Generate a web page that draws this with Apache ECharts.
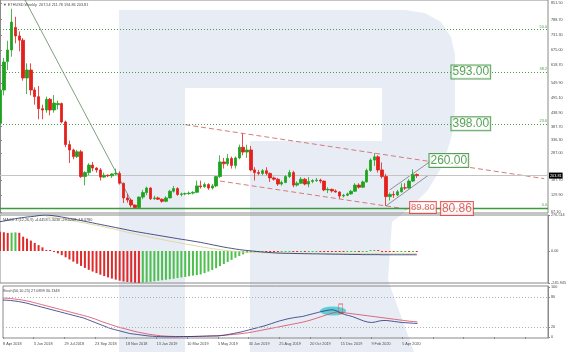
<!DOCTYPE html>
<html>
<head>
<meta charset="utf-8">
<script src="https://cdn.jsdelivr.net/npm/echarts@6/dist/echarts.min.js"></script>
<style>
  html, body { margin: 0; padding: 0; background: #fff; }
  #chart { width: 569px; height: 352px; }
</style>
</head>
<body>
<div id="chart"></div>
<script>
// ETHUSD weekly, week of 8 Apr 2018 .. week of 3 May 2020
const dateLabels = ['8 Apr 2018', '3 Jun 2018', '29 Jul 2018', '23 Sep 2018', '18 Nov 2018', '13 Jan 2019',
  '10 Mar 2019', '5 May 2019', '30 Jun 2019', '25 Aug 2019', '20 Oct 2019', '15 Dec 2019', '9 Feb 2020', '5 Apr 2020'];

const opens = [400, 525, 632, 675, 760, 728, 712, 570, 600, 525, 500, 455, 450, 490, 450, 470, 474, 405, 320, 300,
  275, 293, 200, 215, 243, 232, 225, 198, 205, 203, 210, 212, 175, 120, 112, 93, 84, 123, 140, 157,
  117, 120, 115, 107, 120, 145, 155, 133, 135, 136, 138, 141, 165, 162, 170, 157, 165, 200, 255, 248,
  268, 242, 270, 310, 292, 300, 225, 215, 212, 222, 212, 195, 190, 172, 178, 200, 215, 168, 175, 190,
  172, 182, 185, 187, 183, 150, 152, 146, 142, 127, 130, 135, 145, 168, 160, 180, 223, 262, 274, 225,
  200, 125, 133, 131, 143, 158, 157, 183, 207.54];
const highs = [545, 645, 710, 830, 800, 745, 720, 625, 625, 535, 540, 470, 500, 495, 506, 485, 478, 410, 335, 305,
  300, 300, 220, 250, 255, 235, 232, 215, 208, 212, 230, 220, 177, 135, 118, 95, 125, 150, 162, 160,
  128, 125, 118, 126, 150, 165, 160, 140, 140, 144, 145, 185, 185, 178, 175, 172, 202, 280, 270, 285,
  275, 275, 320, 362, 320, 315, 235, 225, 228, 235, 215, 200, 195, 185, 205, 225, 222, 182, 198, 195,
  198, 190, 195, 192, 185, 160, 155, 152, 145, 135, 140, 150, 175, 175, 185, 230, 268, 288, 280, 253,
  210, 140, 145, 150, 175, 175, 190, 227, 211.78];
const lows = [385, 505, 600, 650, 700, 670, 560, 510, 505, 470, 415, 415, 440, 430, 440, 452, 400, 310, 251, 265,
  270, 195, 167, 205, 220, 215, 185, 195, 198, 195, 205, 170, 101, 102, 85, 80.86, 83, 115, 130, 112,
  113, 112, 102, 104, 118, 140, 128, 126, 130, 132, 133, 138, 155, 158, 150, 152, 160, 195, 230, 240,
  230, 230, 265, 280, 270, 220, 185, 205, 205, 205, 180, 185, 165, 166, 175, 195, 160, 163, 172, 167,
  160, 175, 180, 175, 145, 138, 140, 140, 117, 122, 126, 132, 142, 155, 157, 178, 218, 240, 215, 193,
  89.80, 110, 120, 126, 140, 150, 155, 180, 194.86];
const closes = [525, 630, 675, 780, 728, 712, 570, 600, 525, 500, 455, 450, 490, 450, 476, 474, 405, 320, 300, 275,
  293, 200, 215, 243, 232, 225, 198, 205, 203, 210, 212, 175, 120, 112, 93, 84, 123, 140, 157, 117,
  120, 115, 107, 120, 145, 155, 133, 135, 136, 138, 141, 165, 162, 170, 157, 165, 200, 255, 248, 268,
  242, 270, 310, 292, 300, 225, 215, 212, 222, 212, 195, 190, 172, 178, 200, 215, 168, 175, 190, 172,
  182, 185, 187, 183, 150, 152, 146, 142, 127, 130, 135, 145, 168, 160, 180, 223, 262, 274, 225, 200,
  125, 133, 131, 143, 158, 157, 183, 207, 203.81];

const macdHist = [148, 144, 139, 141, 143, 140, 110, 95, 80, 62, 45, 28, 8, 3, -4,
  -18, -32, -48, -65, -82, -98, -115, -130, -145, -158, -170, -182, -193, -203, -212, -220, -228, -234, -238, -241, -244, -245.945,
  -243, -240, -237, -233, -229, -225, -221, -217, -213, -208, -203, -199, -194, -189, -185, -180,
  -170, -158, -146, -132, -116, -100, -84, -68, -52, -38, -26, -16, -9, -5,
  -4, -2, -3, -5, -6, -7, -6, -4, -2, -4, -5, -4, -5, -4, -3, -2, -2, -4, -5, -6, -7, -8, -8, -7,
  -6, -5, -5, -4, -2, 0, 1, 0, -2, -5, -7, -8, -7, -6, -5, -5, -4, -4.4458];
const macdMain = [225, 230, 236, 242, 248, 253, 257, 261, 264, 267, 272, 275, 276.514, 274, 270,
  266, 261, 256, 250, 245, 240, 234, 228, 222, 216, 210, 204, 198, 192, 186, 180, 174, 168, 162, 156,
  150, 145, 140, 135, 130, 125, 120, 115, 110, 105, 100, 95, 90, 86, 81, 76, 71, 66,
  60, 54, 48, 42, 36, 30, 25, 20, 15, 11, 7, 4, 1, -2,
  -5, -8, -10, -12, -14, -16, -17, -18, -18, -19, -20, -20, -21, -21, -22, -22, -23, -23, -24, -24,
  -25, -25, -26, -26, -27, -27, -27, -28, -28, -28, -28, -28, -29, -29, -29, -29, -29, -29, -29, -29, -29, -29.0208];
const macdSignal = [null, null, null, null, null, null, null, null, null, null, null, null,
  262, 259, 256, 252, 247, 242, 237, 231, 226, 220, 215, 209, 203, 198, 192, 185, 178, 172, 165, 158,
  151, 144, 138, 131, 124, 118, 112, 106, 100, 94, 88, 82, 76, 71, 65, 60, 54, 49, 44, 38,
  33, 28, 23, 18, 14, 10, 6, 2, -1, -4, -6, -8, -10, -11, -12, -13,
  -14, -14, -15, -15, -16, -16, -16, -17, -17, -17, -17, -18, -18, -18, -18, -18, -19, -19, -19, -19,
  -19, -19, -19, -19, -19, -19, -19, -19, -19, -19, -18, -18, -18, -18, -18, -18, -18, -18, -18, -18, -18.378];

const stochMain = [74, 73.5, 73, 72, 71, 69.5, 68, 66, 64, 62, 60, 58, 56, 54, 52,
  50, 48, 46, 44, 42, 40, 38, 35, 32, 29, 26, 23, 20, 17, 15,
  13, 11, 9, 7, 6, 5, 4, 3, 2, 1.5, 1, 0.8, 0.5, 0.5, 0.5,
  0.5, 0.6, 0.8, 1, 1, 1.2, 1.4, 1.6, 1.8, 2, 2, 2, 3, 4, 5.5,
  7, 8.5, 10, 12, 14, 16, 18, 20, 22, 24.5, 27, 29.5, 32, 34, 36,
  37.5, 39, 40, 41, 43, 45, 47, 49, 51, 52.5, 54, 54.5, 52, 48, 45,
  43, 41, 38, 35, 32, 30, 29, 30, 32, 33, 33, 32, 31, 30, 29,
  28.5, 28, 27.5, 27.0899];
const stochSignal = [78, 77.5, 77, 76, 75, 74, 72.5, 71, 69, 67, 65, 63, 61, 59, 57,
  55, 53, 51, 49, 47, 45, 43, 41, 38.5, 36, 33, 30, 27.5, 25, 22.5,
  20, 18, 16, 14, 12, 10, 8.5, 7, 5.5, 4.5, 3.5, 2.5, 2, 1.5, 1.2,
  1, 1, 1, 1, 1, 1, 1.2, 1.4, 1.6, 2, 2.4, 2.8, 3.2, 3.8, 4.4,
  5, 5.8, 6.6, 7.6, 8.6, 10, 11.5, 13, 14.5, 16, 17.5, 19, 20.5, 22, 23.5,
  25, 26.5, 28, 29.5, 31.5, 33.5, 36, 38.5, 41, 43.5, 46, 48.5, 50, 49.5, 48.5,
  47.5, 46.5, 45.5, 44.5, 43.5, 42.5, 41.5, 40.5, 39.5, 38.5, 37.5, 36.5, 35.5, 34.5, 33.5,
  32.5, 31.5, 30.8, 30.1348];

const priceTicks = [67.10, 129.90, 187.70, 287.00, 336.30, 387.70, 438.90, 495.10, 549.90, 618.70, 675.00, 731.30, 788.70, 851.50];
const macdTicks = [-245.945, 0, 276.514];
const stochTicks = [0, 20, 80, 100];

const fiboLevels = [80.86, 398, 593, 752];
const fiboNames = ['0.0', '23.6', '38.2', '50.0'];
const lastPrice = 203.81;

// boxed price targets: [week slot, price, text]
const greenTargets = [[122, 593, '593.00'], [122, 398, '398.00'], [116.3, 260, '260.00']];
const redTargets = [[118.4, 80.3, '80.86'], [109.6, 84, '89.80']];

// trend / channel lines: pairs of [week slot, price]
const fiboTrend = [[-14, 1424], [35, 80.86]];
const channelTop = [[48, 394.6], [141, 192.3]];
const channelBottom = [[57, 183.4], [106, 76.7]];
const riseLow = [[100, 89.8], [111, 205]];
const riseHigh = [[101, 150], [112, 262]];

const N_SLOTS = 143;
const cats = Array.from({ length: N_SLOTS }, (_, i) => String(i));
const GREEN = '#1fa31f', RED = '#e3201c', FIBO = '#4a9a4a', AXIS = '#8a8a8a', TXT = '#4a4a4a';
const FONT = 'Liberation Sans';

const chart = echarts.init(document.getElementById('chart'));

const candles = opens.map((o, i) => [o, closes[i], lows[i], highs[i]]);

const fiboMarks = fiboLevels.map((v, i) => ({
  yAxis: v,
  lineStyle: i === 0 ? { type: 'solid', width: 1.4, color: '#3c9a3c' } : { type: [1, 2], width: 1, color: FIBO },
  label: { show: true, formatter: fiboNames[i], position: 'insideEndTop', distance: 1, fontSize: 3.8, color: FIBO, fontFamily: FONT }
}));

const logo = [[119, 10], [405, 10], [425, 13], [441, 22], [451, 37], [455, 55], [455, 110], [452, 135], [443, 165],
  [428, 190], [410, 208], [392, 222], [388, 280], [414, 352], [250, 352], [250, 141], [382, 141], [382, 88],
  [185, 88], [185, 352], [119, 352]];

const hiddenCat = {
  type: 'category', data: cats, boundaryGap: false,
  axisLine: { show: false }, axisTick: { show: false }, axisLabel: { show: false }, splitLine: { show: false }
};

const lineSeries = (data, color, width, dash) => ({
  type: 'line', xAxisIndex: 3, yAxisIndex: 0, data: data, symbol: 'none', silent: true, z: 4,
  lineStyle: { color: color, width: width, type: dash || 'solid' }
});

const option = {
  animation: false,
  textStyle: { fontFamily: FONT },
  graphic: [
    { type: 'polygon', z: -10, silent: true, shape: { points: logo }, style: { fill: '#e8edf5' } },
    { type: 'text', left: 3, top: 3, z: 20, style: { text: '\u25BC ETHUSD,Weekly  207.54 211.78 194.86 203.81', fontSize: 3.8, fontFamily: FONT, fill: TXT } },
    { type: 'text', left: 3, top: 218, z: 20, style: { text: 'MACD 3 (12,26,9) -4.4458 5.3030 -29.0208 -18.3780', fontSize: 3.8, fontFamily: FONT, fill: TXT } },
    { type: 'text', left: 3, top: 289, z: 20, style: { text: 'Stoch(50,10,25) 27.0899 30.1348', fontSize: 3.8, fontFamily: FONT, fill: TXT } }
  ],
  grid: [
    { left: 0, top: 0, width: 548, height: 213, show: true, borderColor: AXIS, borderWidth: 1 },
    { left: 0, top: 215, width: 548, height: 68, show: true, borderColor: AXIS, borderWidth: 1 },
    { left: 0, top: 286, width: 548, height: 52, show: true, borderColor: AXIS, borderWidth: 1 }
  ],
  xAxis: [
    Object.assign({ gridIndex: 0 }, hiddenCat),
    Object.assign({ gridIndex: 1 }, hiddenCat),
    {
      type: 'category', gridIndex: 2, data: cats, boundaryGap: false,
      axisLine: { show: false },
      axisTick: { show: true, interval: 7, length: 2, lineStyle: { color: AXIS } },
      axisLabel: {
        interval: 7, align: 'left', margin: 4, fontSize: 3.8, color: TXT,
        formatter: (v, i) => (i % 8 === 0 && dateLabels[i / 8]) ? dateLabels[i / 8] : ''
      },
      splitLine: { show: false }
    },
    { type: 'value', gridIndex: 0, min: 0, max: N_SLOTS - 1, show: false }
  ],
  yAxis: [
    {
      type: 'value', gridIndex: 0, position: 'right', min: 63.3, max: 862.8,
      axisLine: { show: true, lineStyle: { color: AXIS } },
      axisTick: { show: true, length: 2, customValues: priceTicks, lineStyle: { color: AXIS } },
      axisLabel: { customValues: priceTicks, formatter: v => v.toFixed(2), fontSize: 3.8, color: TXT, margin: 3 },
      splitLine: { show: false }
    },
    {
      type: 'value', gridIndex: 1, position: 'right', min: -245.945, max: 276.514,
      axisLine: { show: true, lineStyle: { color: AXIS } },
      axisTick: { show: true, length: 2, customValues: macdTicks, lineStyle: { color: AXIS } },
      axisLabel: { customValues: macdTicks, formatter: v => v === 0 ? '0.00' : String(v), fontSize: 3.8, color: TXT, margin: 3 },
      splitLine: { show: false }
    },
    {
      type: 'value', gridIndex: 2, position: 'right', min: -2, max: 102,
      axisLine: { show: true, lineStyle: { color: AXIS } },
      axisTick: { show: true, length: 2, customValues: stochTicks, lineStyle: { color: AXIS } },
      axisLabel: { customValues: stochTicks, fontSize: 3.8, color: TXT, margin: 3 },
      splitLine: { show: false }
    }
  ],
  series: [
    {
      type: 'candlestick', xAxisIndex: 0, yAxisIndex: 0, data: candles, barWidth: 3, z: 5,
      itemStyle: { color: GREEN, color0: RED, borderColor: GREEN, borderColor0: RED, borderWidth: 0.8 },
      markLine: {
        silent: true, symbol: ['none', 'none'], animation: false,
        data: fiboMarks.concat([{
          yAxis: lastPrice,
          lineStyle: { type: 'solid', width: 1, color: '#c4c4c4' },
          label: {
            show: true, position: 'end', distance: 1, formatter: lastPrice.toFixed(2),
            fontSize: 3.8, color: '#fff', backgroundColor: '#000', padding: [1, 1], fontFamily: FONT
          }
        }])
      }
    },
    lineSeries(fiboTrend, '#5f875f', 0.8),
    lineSeries(channelTop, '#d67b7d', 1, [5, 3]),
    lineSeries(channelBottom, '#d67b7d', 1, [5, 3]),
    lineSeries(riseLow, '#666', 0.7),
    lineSeries(riseHigh, '#666', 0.7),
    {
      type: 'scatter', xAxisIndex: 3, yAxisIndex: 0, symbolSize: 1, z: 10, silent: true,
      itemStyle: { color: 'rgba(0,0,0,0)' },
      data: greenTargets.map(t => ({ value: [t[0], t[1]], name: t[2] })),
      label: {
        show: true, position: 'inside', formatter: '{b}', fontSize: 12, color: '#2e8b2e', fontFamily: FONT,
        backgroundColor: '#fff', borderColor: '#2e8b2e', borderWidth: 1, padding: [1, 1, 0, 1]
      }
    },
    {
      type: 'scatter', xAxisIndex: 3, yAxisIndex: 0, symbolSize: 1, z: 10, silent: true,
      itemStyle: { color: 'rgba(0,0,0,0)' },
      data: redTargets.map(t => ({ value: [t[0], t[1]], name: t[2], label: { fontSize: t[2] === '89.80' ? 9.5 : 12 } })),
      label: {
        show: true, position: 'inside', formatter: '{b}', color: '#e03a3a', fontFamily: FONT,
        backgroundColor: '#fff', borderColor: '#e03a3a', borderWidth: 1, padding: [1, 1, 0, 1]
      }
    },
    {
      type: 'bar', xAxisIndex: 1, yAxisIndex: 1, data: macdHist, barWidth: 2, barMinHeight: 1, silent: true,
      itemStyle: {
        color: p => (p.dataIndex > 0 && macdHist[p.dataIndex] > macdHist[p.dataIndex - 1]) ? '#4cbf4c' : '#e02a2a'
      }
    },
    {
      type: 'line', xAxisIndex: 1, yAxisIndex: 1, data: macdMain, symbol: 'none', silent: true, z: 4,
      lineStyle: { color: '#1f2a66', width: 0.8 }
    },
    {
      type: 'line', xAxisIndex: 1, yAxisIndex: 1, data: macdSignal, symbol: 'none', silent: true, z: 3,
      lineStyle: { color: '#ddd69a', width: 0.9 }
    },
    {
      type: 'scatter', xAxisIndex: 2, yAxisIndex: 2, silent: true, z: 2,
      data: [[86, 52]], symbol: 'circle', symbolSize: [26, 9], itemStyle: { color: '#3fc6cf' }
    },
    {
      type: 'scatter', xAxisIndex: 2, yAxisIndex: 2, silent: true, z: 6,
      data: [[87.5, 57]], symbol: 'rect', symbolSize: [4, 9],
      itemStyle: { color: 'rgba(0,0,0,0)', borderColor: '#e04040', borderWidth: 0.8 }
    },
    {
      type: 'line', xAxisIndex: 2, yAxisIndex: 2, data: stochMain, symbol: 'none', silent: true, z: 4,
      lineStyle: { color: '#27307a', width: 0.8 },
      markLine: {
        silent: true, symbol: ['none', 'none'], label: { show: false },
        lineStyle: { type: [1, 2], color: '#b0b0b0', width: 1 },
        data: [{ yAxis: 20 }, { yAxis: 80 }]
      }
    },
    {
      type: 'line', xAxisIndex: 2, yAxisIndex: 2, data: stochSignal, symbol: 'none', silent: true, z: 3,
      lineStyle: { color: '#d8465f', width: 0.8 }
    }
  ]
};

chart.setOption(option);
</script>
</body>
</html>
